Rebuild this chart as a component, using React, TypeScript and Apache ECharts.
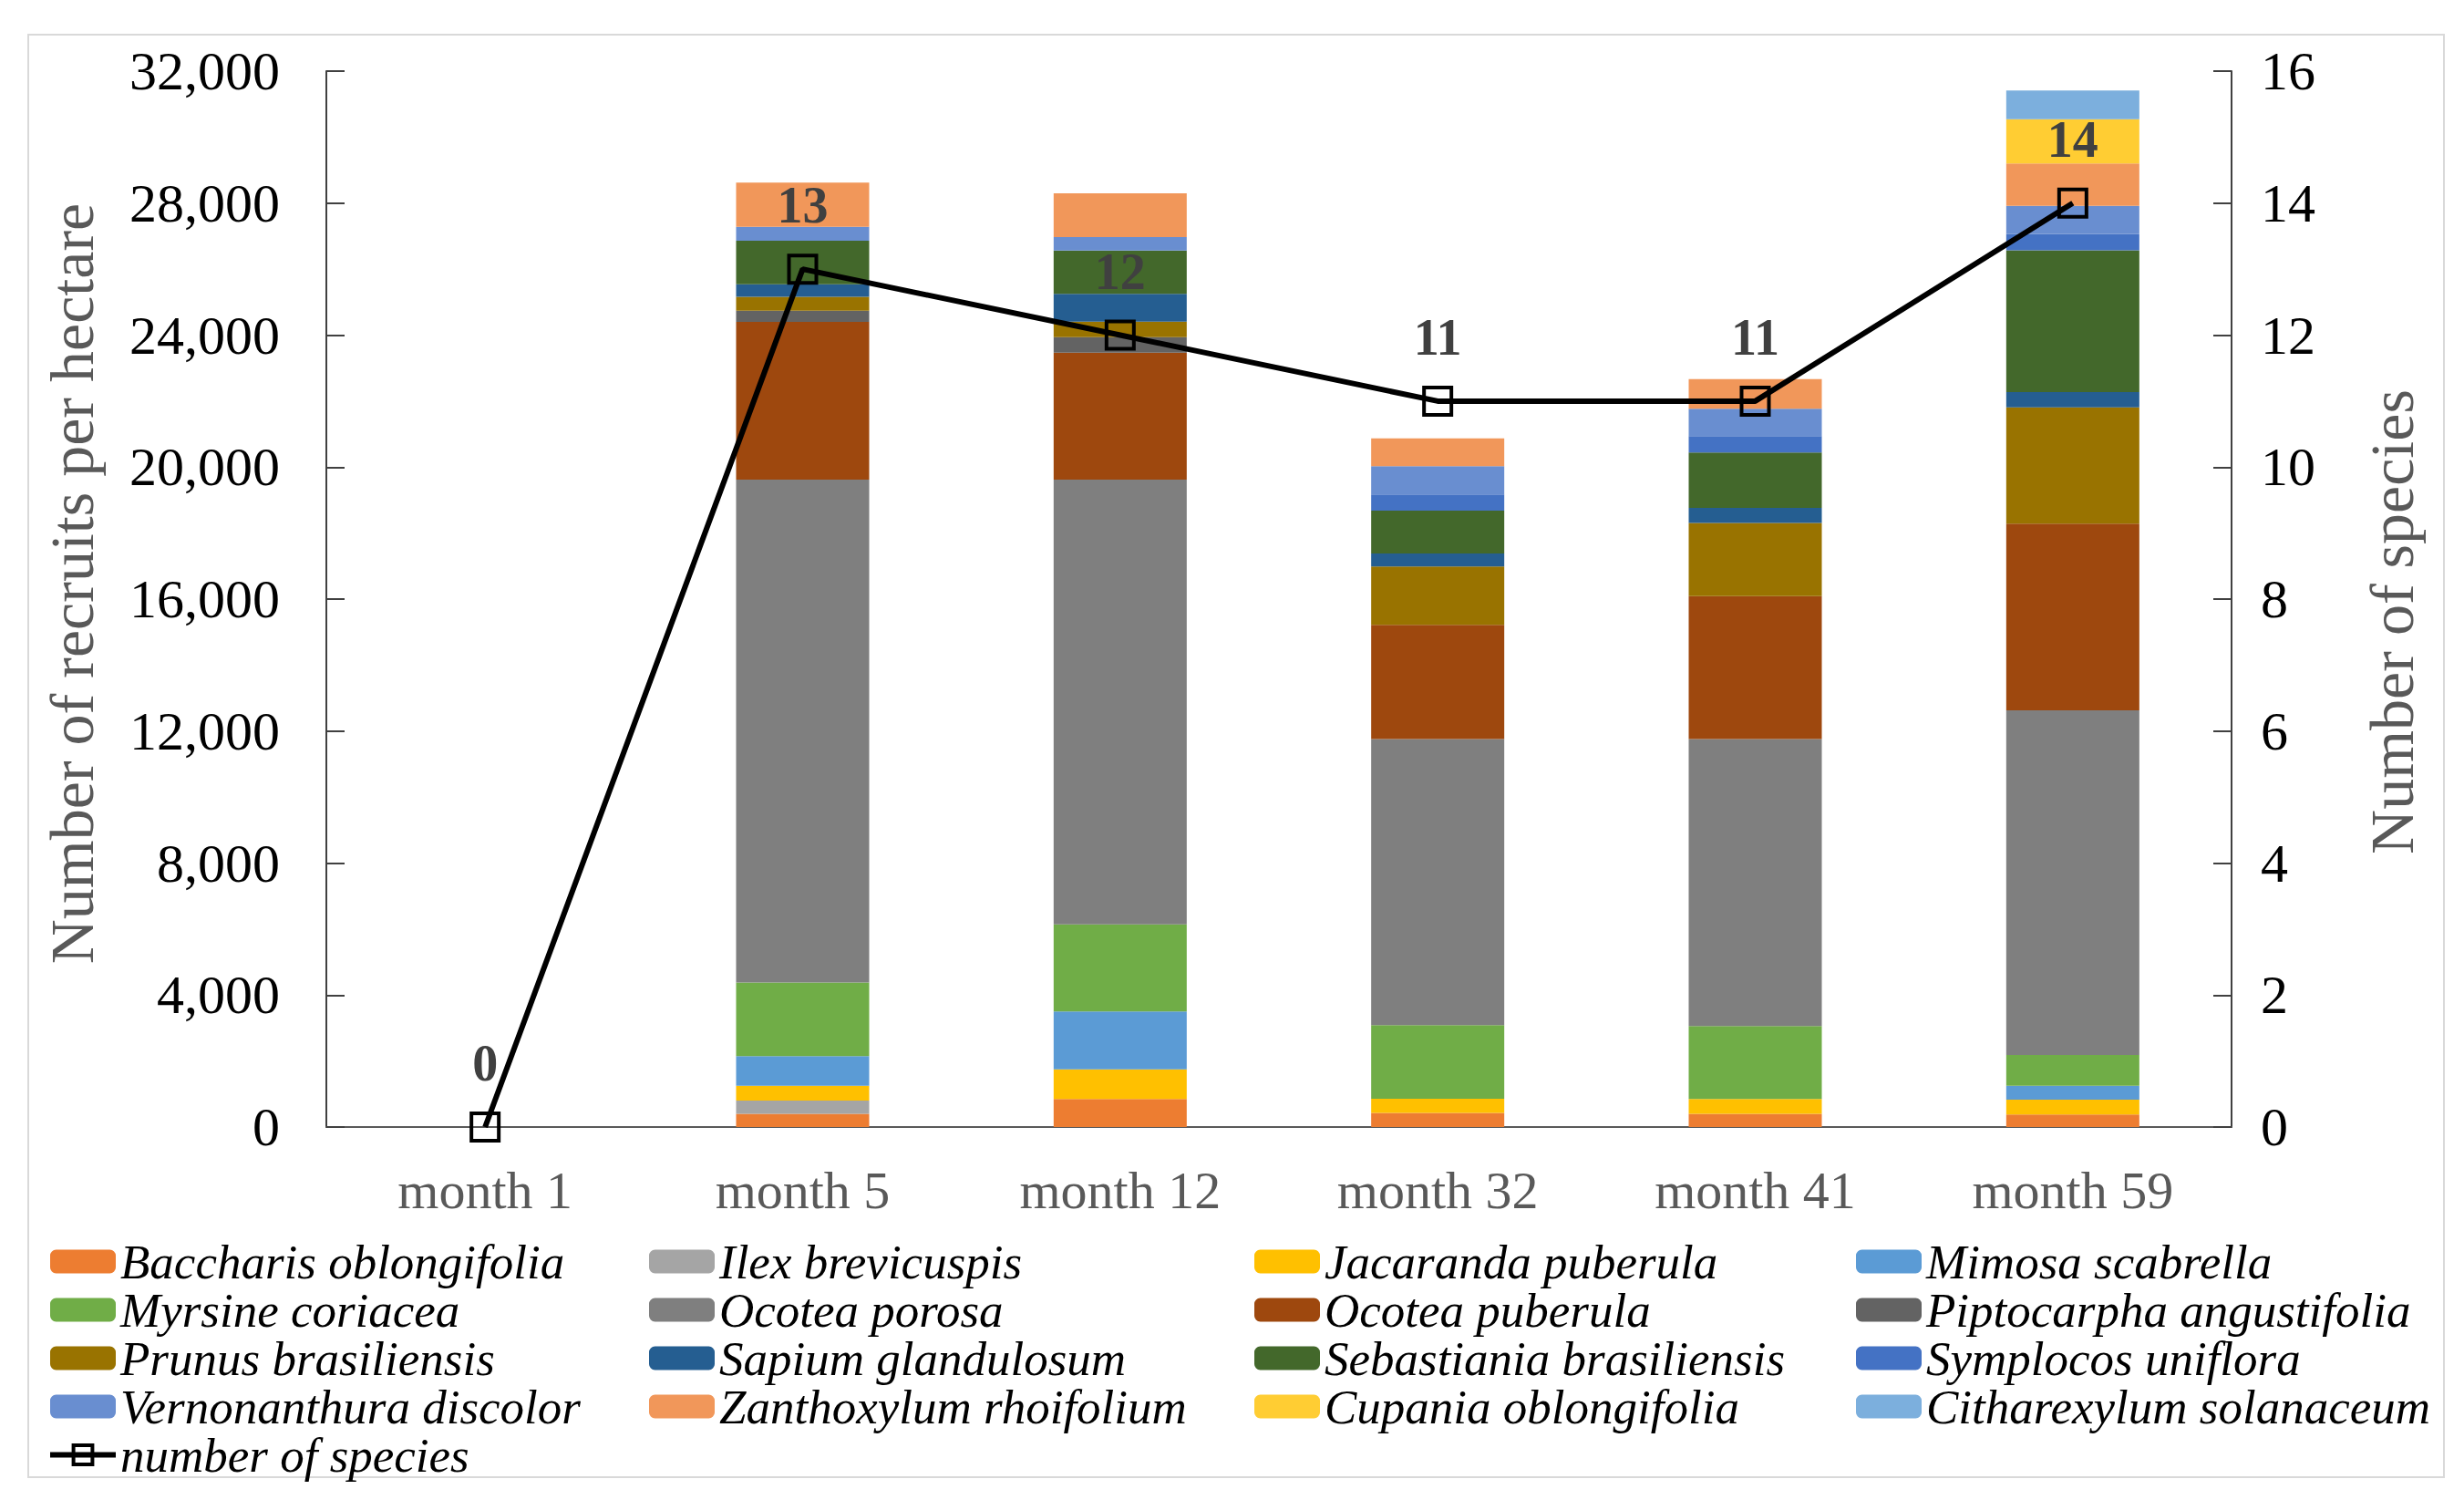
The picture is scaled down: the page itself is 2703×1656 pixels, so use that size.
import React, { useEffect, useRef } from "react";
import * as echarts from "echarts";

const categories = ["month 1", "month 5", "month 12", "month 32", "month 41", "month 59"];

const speciesNames = [
  "Baccharis oblongifolia",
  "Ilex brevicuspis",
  "Jacaranda puberula",
  "Mimosa scabrella",
  "Myrsine coriacea",
  "Ocotea porosa",
  "Ocotea puberula",
  "Piptocarpha angustifolia",
  "Prunus brasiliensis",
  "Sapium glandulosum",
  "Sebastiania brasiliensis",
  "Symplocos uniflora",
  "Vernonanthura discolor",
  "Zanthoxylum rhoifolium",
  "Cupania oblongifolia",
  "Citharexylum solanaceum",
];

const speciesColors = [
  "#ED7D31", "#A5A5A5", "#FFC000", "#5B9BD5",
  "#70AD47", "#7F7F7F", "#9E480E", "#636363",
  "#997300", "#255E91", "#43682B", "#4472C4",
  "#698ED0", "#F1975A", "#FFCD33", "#7CAFDD",
];

const baccharis = [0, 400, 850, 430, 400, 380];
const ilex = [0, 400, 0, 0, 0, 0];
const jacaranda = [0, 450, 900, 430, 450, 450];
const mimosa = [0, 900, 1750, 0, 0, 420];
const myrsine = [0, 2230, 2640, 2230, 2210, 930];
const ocoteaPorosa = [0, 15240, 13480, 8670, 8700, 10450];
const ocoteaPuberula = [0, 4780, 3850, 3460, 4330, 5660];
const piptocarpha = [0, 340, 470, 0, 0, 0];
const prunus = [0, 420, 470, 1770, 2220, 3520];
const sapium = [0, 380, 840, 390, 450, 460];
const sebastiania = [0, 1320, 1310, 1300, 1680, 4300];
const symplocos = [0, 0, 0, 490, 500, 500];
const vernonanthura = [0, 420, 410, 860, 830, 850];
const zanthoxylum = [0, 1340, 1330, 840, 900, 1280];
const cupania = [0, 0, 0, 0, 0, 1340];
const citharexylum = [0, 0, 0, 0, 0, 870];

const speciesValues = [
  baccharis, ilex, jacaranda, mimosa, myrsine, ocoteaPorosa, ocoteaPuberula, piptocarpha,
  prunus, sapium, sebastiania, symplocos, vernonanthura, zanthoxylum, cupania, citharexylum,
];

const numberOfSpecies = [0, 13, 12, 11, 11, 14];
const lineName = "number of species";

const leftTicks = { min: 0, max: 32000, interval: 4000 };
const rightTicks = { min: 0, max: 16, interval: 2 };

const leftTitle = "Number of recruits per hectare";
const rightTitle = "Number of species";

const FONT = "Liberation Serif";

export default function App() {
  const ref = useRef<HTMLDivElement>(null);

  useEffect(() => {
    document.body.style.margin = "0";
    if (!ref.current) return;
    const chart = echarts.init(ref.current, null, { renderer: "svg" });

    const barSeries = speciesNames.map((name, i) => ({
      name,
      type: "bar",
      stack: "total",
      yAxisIndex: 0,
      barWidth: 146,
      data: speciesValues[i],
      itemStyle: { color: speciesColors[i] },
      emphasis: { disabled: true },
    }));

    const columns = [
      [speciesNames[0], speciesNames[4], speciesNames[8], speciesNames[12], lineName],
      [speciesNames[1], speciesNames[5], speciesNames[9], speciesNames[13]],
      [speciesNames[2], speciesNames[6], speciesNames[10], speciesNames[14]],
      [speciesNames[3], speciesNames[7], speciesNames[11], speciesNames[15]],
    ];
    const colLefts = [52, 712, 1376, 2036];

    const legends = columns.map((data, ci) => ({
      orient: "vertical",
      left: colLefts[ci],
      top: 1357,
      padding: 0,
      itemGap: 0,
      itemWidth: 72,
      itemHeight: 26,
      selectedMode: false,
      lineStyle: { width: 6 },
      itemStyle: { borderWidth: 4 },
      data,
      textStyle: {
        fontFamily: FONT,
        fontStyle: "italic",
        fontSize: 53,
        lineHeight: 52,
        color: "#000",
      },
    }));

    const option = {
      animation: false,
      backgroundColor: "#fff",
      grid: { left: 358, right: 255, top: 78, bottom: 420 },
      legend: legends,
      xAxis: {
        type: "category",
        data: categories,
        axisLine: { lineStyle: { color: "#595959", width: 2 } },
        axisTick: { show: false },
        axisLabel: { fontFamily: FONT, fontSize: 58, color: "#595959", margin: 40 },
      },
      yAxis: [
        {
          type: "value",
          ...leftTicks,
          splitLine: { show: false },
          axisLine: { show: true, lineStyle: { color: "#404040", width: 2 } },
          axisTick: { show: true, inside: true, length: 20, lineStyle: { color: "#404040", width: 2 } },
          axisLabel: {
            fontFamily: FONT,
            fontSize: 60,
            color: "#000",
            margin: 51,
            formatter: (v: number) => v.toLocaleString("en-US"),
          },
        },
        {
          type: "value",
          position: "right",
          ...rightTicks,
          splitLine: { show: false },
          axisLine: { show: true, lineStyle: { color: "#404040", width: 2 } },
          axisTick: { show: true, inside: true, length: 20, lineStyle: { color: "#404040", width: 2 } },
          axisLabel: { fontFamily: FONT, fontSize: 60, color: "#000", margin: 32 },
        },
      ],
      graphic: [
        {
          type: "rect",
          shape: { x: 31, y: 38, width: 2650, height: 1582 },
          style: { fill: "none", stroke: "#d9d9d9", lineWidth: 2 },
          silent: true,
          z: -10,
        },
        {
          type: "text",
          x: 79,
          y: 640,
          rotation: Math.PI / 2,
          silent: true,
          style: {
            text: leftTitle,
            fontFamily: FONT,
            fontSize: 68,
            fill: "#595959",
            textAlign: "center",
            textVerticalAlign: "middle",
          },
        },
        {
          type: "text",
          x: 2624,
          y: 682,
          rotation: Math.PI / 2,
          silent: true,
          style: {
            text: rightTitle,
            fontFamily: FONT,
            fontSize: 68,
            fill: "#595959",
            textAlign: "center",
            textVerticalAlign: "middle",
          },
        },
      ],
      series: [
        ...barSeries,
        {
          name: lineName,
          type: "line",
          yAxisIndex: 1,
          data: numberOfSpecies,
          z: 10,
          symbol: "rect",
          symbolSize: 30,
          lineStyle: { color: "#000", width: 6 },
          itemStyle: { color: "rgba(255,255,255,0)", borderColor: "#000", borderWidth: 4 },
          label: {
            show: true,
            position: "top",
            distance: 25,
            fontFamily: FONT,
            fontWeight: "bold",
            fontSize: 56,
            color: "#404040",
          },
          emphasis: { disabled: true },
        },
      ],
    };

    chart.setOption(option as any);
    return () => chart.dispose();
  }, []);

  return <div ref={ref} style={{ width: 2703, height: 1656 }} />;
}
